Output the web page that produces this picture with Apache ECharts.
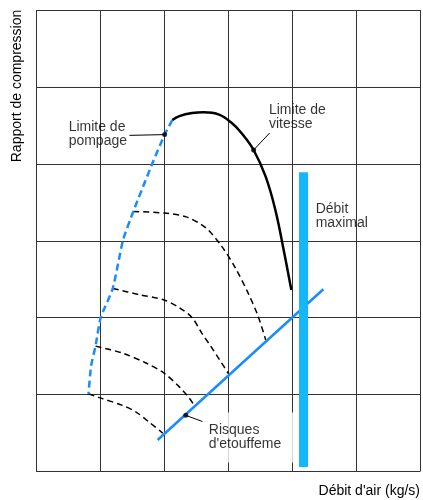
<!DOCTYPE html>
<html>
<head>
<meta charset="utf-8">
<script src="https://cdn.jsdelivr.net/npm/echarts@6/dist/echarts.min.js"></script>
<style>
  html, body { margin: 0; padding: 0; background: #fff; }
  #chart { width: 423px; height: 500px; }
</style>
</head>
<body>
<div id="chart"></div>
<script>
// limite de pompage (bleu pointillé)
var surgeX = [2.13, 2.01, 1.82, 1.52, 1.36, 1.20, 1.01, 0.93, 0.86, 0.82];
var surgeY = [4.57, 4.38, 4.01, 3.38, 3.01, 2.38, 2.00, 1.63, 1.37, 1.01];
// limite de vitesse (noir)
var speedX = [2.13, 2.24, 2.44, 2.62, 2.86, 3.06, 3.21, 3.40, 3.59, 3.74, 3.87, 3.99];
var speedY = [4.57, 4.62, 4.66, 4.67, 4.64, 4.53, 4.40, 4.18, 3.83, 3.40, 2.88, 2.36];
// iso-vitesses (pointillés noirs)
var iso1X = [1.52, 2.00, 2.35, 2.65, 2.90, 3.12, 3.32, 3.47, 3.59];
var iso1Y = [3.38, 3.36, 3.31, 3.17, 2.93, 2.64, 2.31, 2.02, 1.71];
var iso2X = [1.20, 1.61, 2.00, 2.24, 2.44, 2.59, 2.73, 2.87, 3.01];
var iso2Y = [2.38, 2.30, 2.23, 2.13, 2.00, 1.80, 1.63, 1.45, 1.27];
var iso3X = [0.93, 1.35, 1.72, 2.00, 2.24, 2.39, 2.48];
var iso3Y = [1.63, 1.54, 1.41, 1.28, 1.10, 0.96, 0.85];
var iso4X = [0.82, 0.99, 1.35, 1.57, 1.77, 1.98];
var iso4Y = [1.01, 0.96, 0.86, 0.77, 0.64, 0.50];
// risques d'etouffement (bleu)
var chokeX = [1.90, 4.49];
var chokeY = [0.41, 2.37];
// débit maximal
var maxFlowX = [4.18, 4.18];
var maxFlowY = [0.06, 3.89];
// points repères + traits de rappel
var dotX = [2.01, 3.40, 2.34];
var dotY = [4.38, 4.18, 0.73];
var leaderEndX = [1.46, 3.65, 2.60];
var leaderEndY = [4.37, 4.40, 0.65];
// textes
var labelTexts = ['Limite de\npompage', 'Limite de\nvitesse', 'Débit\nmaximal', 'Risques\nd\'etouffeme'];
var labelX = [0.51, 3.64, 4.37, 2.70];
var labelY = [4.39, 4.61, 3.32, 0.56];

function zip(xs, ys) {
  return xs.map(function (x, i) { return [x, ys[i]]; });
}

var FONT = '"Liberation Sans", Arial, sans-serif';
var chart = echarts.init(document.getElementById('chart'));

var series = [
  {
    type: 'line', data: zip(surgeX, surgeY), smooth: 0.15, symbol: 'none',
    lineStyle: { color: '#1a8cff', width: 2.5, type: [7, 4] }, z: 3
  },
  {
    type: 'line', data: zip(speedX, speedY), smooth: 0.4, symbol: 'none',
    lineStyle: { color: '#000', width: 2.5 }, z: 3
  }
];
[[iso1X, iso1Y], [iso2X, iso2Y], [iso3X, iso3Y], [iso4X, iso4Y]].forEach(function (c) {
  series.push({
    type: 'line', data: zip(c[0], c[1]), smooth: 0.3, symbol: 'none',
    lineStyle: { color: '#000', width: 1.5, type: [6, 4] }, z: 2
  });
});
series.push({
  type: 'line', data: zip(chokeX, chokeY), symbol: 'none',
  lineStyle: { color: '#1a8cff', width: 2.5 }, z: 3
});
series.push({
  type: 'line', data: zip(maxFlowX, maxFlowY), symbol: 'none',
  lineStyle: { color: '#14b8f8', width: 9, cap: 'butt' }, z: 3
});
dotX.forEach(function (x, i) {
  series.push({
    type: 'line', data: [[x, dotY[i]], [leaderEndX[i], leaderEndY[i]]], symbol: 'none',
    lineStyle: { color: '#000', width: 1 }, z: 4
  });
});
series.push({
  type: 'scatter', data: zip(dotX, dotY), symbolSize: 5,
  itemStyle: { color: '#000' }, z: 5
});
series.push({
  type: 'scatter', symbolSize: 0, z: 6,
  data: labelTexts.map(function (t, i) {
    var item = { value: [labelX[i], labelY[i]], label: { formatter: t } };
    if (i === 3) {
      item.label.backgroundColor = '#fff';
      item.label.padding = [2, 12, 20, 2];
      item.label.offset = [-2, 9];
    }
    return item;
  }),
  label: {
    show: true, position: 'right', distance: 0,
    fontFamily: FONT, fontSize: 14, lineHeight: 14, color: '#000'
  }
});

var option = {
  animation: false,
  grid: { left: 36, right: 0.5, top: 10, bottom: 28.5, show: false },
  xAxis: {
    type: 'value', min: 0, max: 6, interval: 1,
    name: 'Débit d\'air (kg/s)', nameLocation: 'end', nameGap: 0,
    nameTextStyle: { fontFamily: FONT, fontSize: 14, color: '#000', align: 'right', verticalAlign: 'top', padding: [13, 0, 0, 0] },
    axisLine: { show: false }, axisTick: { show: false }, axisLabel: { show: false },
    splitLine: { show: true, lineStyle: { color: '#333', width: 1 } }
  },
  yAxis: {
    type: 'value', min: 0, max: 6, interval: 1,
    axisLine: { show: false }, axisTick: { show: false }, axisLabel: { show: false },
    splitLine: { show: true, lineStyle: { color: '#333', width: 1 } }
  },
  graphic: [{
    type: 'text', x: 17.5, y: 86, rotation: Math.PI / 2,
    style: { text: 'Rapport de compression', font: '14px ' + FONT, fill: '#000', align: 'center', verticalAlign: 'middle' }
  }],
  series: series
};
chart.setOption(option);
</script>
</body>
</html>
